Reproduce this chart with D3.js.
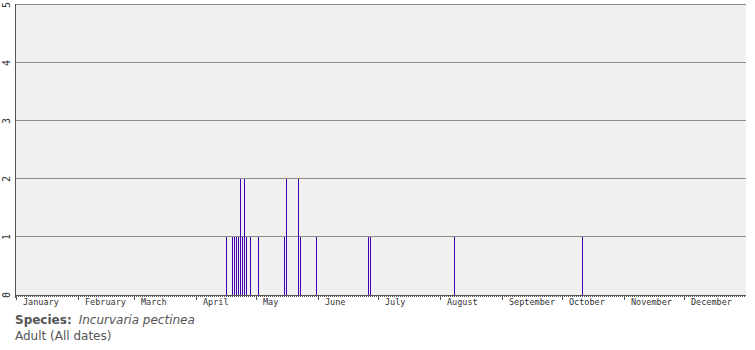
<!DOCTYPE html>
<html>
<head>
<meta charset="utf-8">
<script src="https://cdn.jsdelivr.net/npm/d3@7"></script>
<style>
  body { margin: 0; background: #fff; }
  svg { display: block; }
  .cap { font-family: "DejaVu Sans", Verdana, sans-serif; font-size: 12px; fill: #555; }
</style>
</head>
<body>
<div id="chart"></div>
<script>
// records per day (non-leap year)
const recordDates = ["04-16", "04-19", "04-20", "04-21", "04-22", "04-23", "04-24", "04-25", "04-26", "04-28",
  "05-02", "05-15", "05-16", "05-22", "05-23", "05-31", "06-26", "06-27", "08-08", "10-11"];
const recordCounts = [1, 1, 1, 1, 1, 2, 1, 2, 1, 1, 1, 1, 2, 2, 1, 1, 1, 1, 1, 1];
const monthNames = ["January", "February", "March", "April", "May", "June",
  "July", "August", "September", "October", "November", "December"];
const yTicks = [0, 1, 2, 3, 4, 5];

let width = 755;
let height = 350;
let plotLeft = 16;
let plotRight = 746;
let plotTop = 5;
let plotBottom = 295;

let xScale = d3.scaleUtc()
  .domain([new Date(Date.UTC(2023, 0, 1)), new Date(Date.UTC(2024, 0, 1))])
  .range([plotLeft, plotRight]);
let yScale = d3.scaleLinear().domain([0, 5]).range([plotBottom, plotTop]);

let vis = d3.select("#chart").append("svg:svg")
  .attr("width", width).attr("height", height);

// plot background
vis.append("rect")
  .attr("x", plotLeft).attr("y", plotTop)
  .attr("width", plotRight - plotLeft).attr("height", plotBottom - plotTop)
  .attr("fill", "#f0f0f0");

// horizontal grid lines (the top one doubles as the border)
vis.append("g").selectAll("line")
  .data(yTicks.filter(d => d > 0))
  .join("line")
  .attr("x1", plotLeft).attr("x2", plotRight)
  .attr("y1", d => Math.round(yScale(d)) - 0.5)
  .attr("y2", d => Math.round(yScale(d)) - 0.5)
  .attr("stroke", "#8c8c8c");

// bars
let parse = d3.utcParse("%Y-%m-%d");
vis.append("g").selectAll("rect")
  .data(recordDates.map((d, i) => ({ date: parse("2023-" + d), n: recordCounts[i] })))
  .join("rect")
  .attr("x", d => xScale(d.date))
  .attr("width", 1)
  .attr("y", d => yScale(d.n))
  .attr("height", d => yScale(0) - yScale(d.n))
  .attr("fill", "#4000b0");

// y axis line
vis.append("line")
  .attr("x1", plotLeft - 0.5).attr("x2", plotLeft - 0.5)
  .attr("y1", plotTop - 1).attr("y2", plotBottom + 3)
  .attr("stroke", "#555");

// y labels, rotated
vis.append("g").selectAll("text")
  .data(yTicks)
  .join("text")
  .attr("transform", d => `translate(10,${yScale(d)}) rotate(-90)`)
  .attr("text-anchor", "middle")
  .attr("font-family", "DejaVu Sans Mono, monospace")
  .attr("font-size", 10)
  .attr("fill", "#333")
  .text(d => d);

// x axis: day ticks and month ticks
let days = d3.utcDay.range(xScale.domain()[0], xScale.domain()[1]);
vis.append("g").selectAll("line")
  .data(days)
  .join("line")
  .attr("x1", d => xScale(d) + 0.5).attr("x2", d => xScale(d) + 0.5)
  .attr("y1", plotBottom).attr("y2", plotBottom + 2)
  .attr("stroke", "#555");

vis.append("line")
  .attr("x1", plotLeft).attr("x2", plotRight)
  .attr("y1", plotBottom + 0.5).attr("y2", plotBottom + 0.5)
  .attr("stroke", "#555");

let months = d3.utcMonth.range(xScale.domain()[0], xScale.domain()[1]);
vis.append("g").selectAll("line")
  .data(months)
  .join("line")
  .attr("x1", d => xScale(d) + 0.5).attr("x2", d => xScale(d) + 0.5)
  .attr("y1", plotBottom).attr("y2", plotBottom + 5)
  .attr("stroke", "#555");

vis.append("g").selectAll("text")
  .data(months)
  .join("text")
  .attr("x", (d, i) => xScale(d) + 7)
  .attr("y", plotBottom + 10)
  .attr("font-family", "DejaVu Sans Mono, monospace")
  .attr("font-size", 8.5)
  .attr("fill", "#333")
  .text((d, i) => monthNames[i]);

// caption
let cap = vis.append("text").attr("class", "cap").attr("x", 15).attr("y", 324);
cap.append("tspan").attr("font-weight", "bold").text("Species:");
cap.append("tspan").attr("font-style", "italic").attr("dx", 7).text("Incurvaria pectinea");
vis.append("text").attr("class", "cap").attr("x", 15).attr("y", 340).text("Adult (All dates)");
</script>
</body>
</html>
